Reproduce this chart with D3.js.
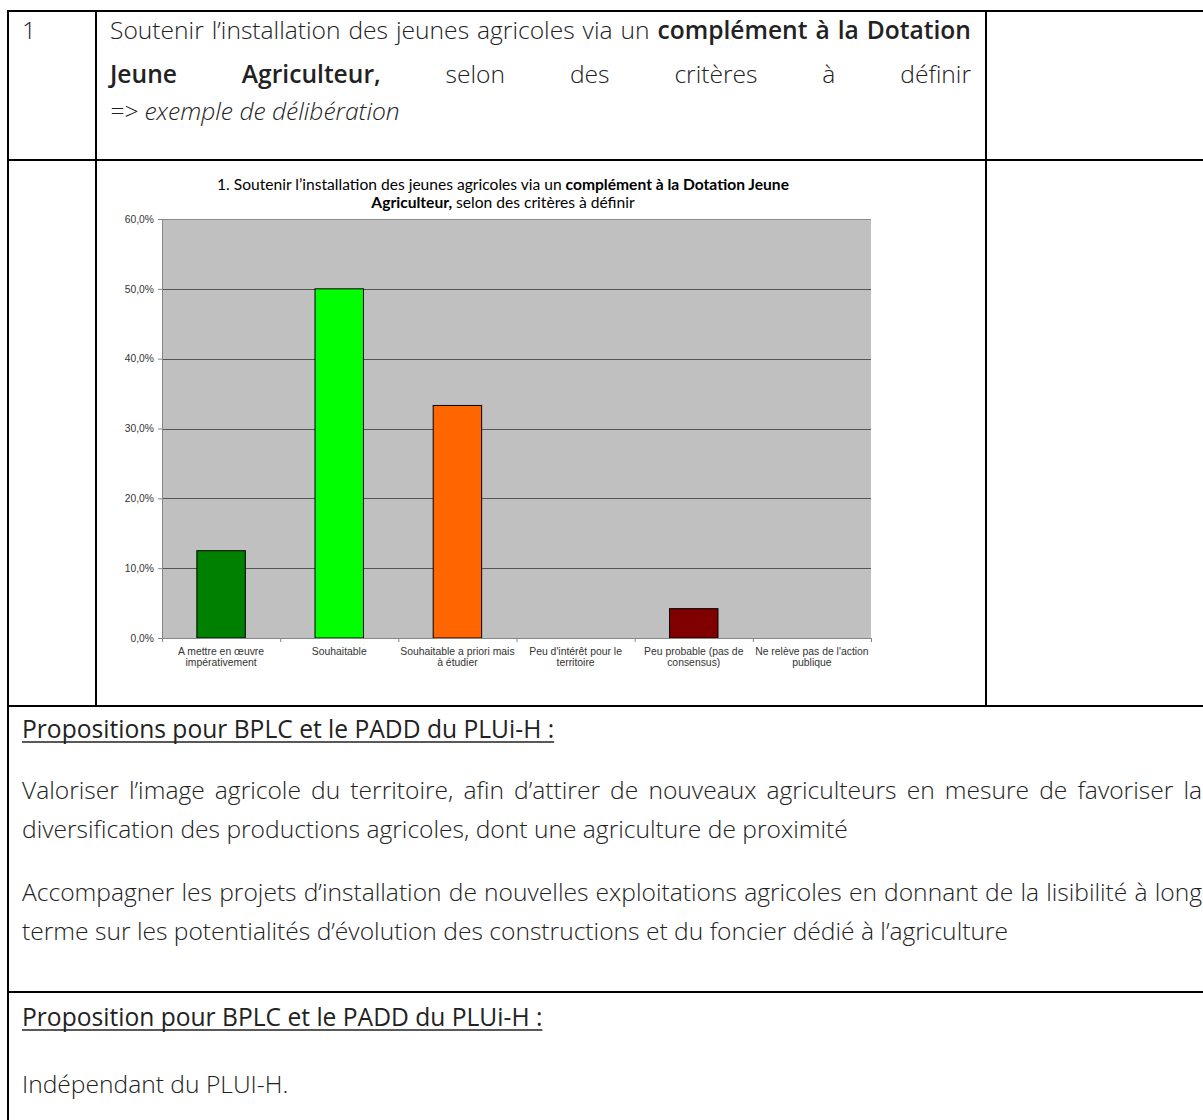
<!DOCTYPE html>
<html>
<head>
<meta charset="utf-8">
<script src="https://cdn.jsdelivr.net/npm/d3@7"></script>
<style>
  html, body { margin: 0; padding: 0; background: #fff; }
  svg { display: block; }
</style>
</head>
<body>
<script>
// Survey answers for action 1 (share of respondents, %)
const categories = [
  ["A mettre en œuvre", "impérativement"],
  ["Souhaitable"],
  ["Souhaitable a priori mais", "à étudier"],
  ["Peu d'intérêt pour le", "territoire"],
  ["Peu probable (pas de", "consensus)"],
  ["Ne relève pas de l'action", "publique"]
];
const values = [12.5, 50.0, 33.3, 0, 4.2, 0];
const barColors = ["#008000", "#00ff00", "#ff6600", "#ffcc00", "#800000", "#808080"];
const yTicks = [0, 10, 20, 30, 40, 50, 60];

const W = 1203, H = 1120;
const svg = d3.select("body").append("svg").attr("width", W).attr("height", H);

const docFont = "'Open Sans', 'Noto Sans', sans-serif";
const doc = svg.append("g").attr("font-family", docFont).attr("font-size", 24.6).attr("fill", "#222");

// ---- table frame ----
const frame = svg.append("g").attr("stroke", "#000").attr("stroke-width", 2);
const hLines = [[11, 8, W], [160, 8, W], [706, 8, W], [992, 8, W]];
hLines.forEach(([y, a, b]) => frame.append("line").attr("x1", a).attr("x2", b).attr("y1", y).attr("y2", y));
const vLines = [[8, 10, H], [96, 11, 706], [986, 11, 706]];
vLines.forEach(([x, a, b]) => frame.append("line").attr("x1", x).attr("x2", x).attr("y1", a).attr("y2", b));

// ---- paragraph helper: lays out words, justified or left-aligned ----
function drawLine(g, words, x0, x1, y, justify) {
  const nodes = words.map(wd => g.append("text")
    .attr("y", y)
    .attr("font-weight", wd.w || 300)
    .attr("font-style", wd.i ? "italic" : "normal")
    .text(wd.t));
  const widths = nodes.map(n => n.node().getComputedTextLength());
  const probe = g.append("text").attr("font-weight", 300).text("a a");
  const probe2 = g.append("text").attr("font-weight", 300).text("aa");
  const spaceW = probe.node().getComputedTextLength() - probe2.node().getComputedTextLength();
  probe.remove(); probe2.remove();
  const gap = justify && words.length > 1 ? (x1 - x0 - d3.sum(widths)) / (words.length - 1) : spaceW;
  let x = x0;
  nodes.forEach((n, i) => { n.attr("x", x); x += widths[i] + gap; });
  return x - gap;
}
function words(str, w, i) { return str.split(" ").map(t => ({ t, w, i })); }

function heading(g, str, x, y) {
  const t = g.append("text").attr("x", x).attr("y", y).attr("font-weight", 400).text(str);
  const len = t.node().getComputedTextLength();
  g.append("line").attr("x1", x).attr("x2", x + len).attr("y1", y + 4).attr("y2", y + 4)
    .attr("stroke", "#222").attr("stroke-width", 1.3);
}

// row 1
doc.append("text").attr("x", 22).attr("y", 39).attr("font-weight", 300).text("1");
drawLine(doc, [...words("Soutenir l’installation des jeunes agricoles via un", 300),
               ...words("complément à la Dotation", 600)], 110, 971, 39, true);
drawLine(doc, [...words("Jeune Agriculteur,", 600), ...words("selon des critères à définir", 300)],
         110, 971, 83, true);
drawLine(doc, words("=> exemple de délibération", 300, true), 110, 971, 120, false);

// row 3
heading(doc, "Propositions pour BPLC et le PADD du PLUi-H :", 22, 738);
drawLine(doc, words("Valoriser l’image agricole du territoire, afin d’attirer de nouveaux agriculteurs en mesure de favoriser la", 300), 22, 1202, 799, true);
drawLine(doc, words("diversification des productions agricoles, dont une agriculture de proximité", 300), 22, 1202, 838, false);
drawLine(doc, words("Accompagner les projets d’installation de nouvelles exploitations agricoles en donnant de la lisibilité à long", 300), 22, 1202, 901, true);
drawLine(doc, words("terme sur les potentialités d’évolution des constructions et du foncier dédié à l’agriculture", 300), 22, 1202, 940, false);

// row 4
heading(doc, "Proposition pour BPLC et le PADD du PLUi-H :", 22, 1026);
drawLine(doc, words("Indépendant du PLUI-H.", 300), 22, 1202, 1093, false);

// ---- bar chart ----
const chart = svg.append("g");
const plot = { left: 162, right: 871, top: 219, bottom: 638 };

const fr = d3.formatLocale({ decimal: ",", thousands: " ", grouping: [3], currency: ["", "€"] });
const pct = v => fr.format(".1f")(v) + "%";

const x = d3.scaleBand().domain(d3.range(categories.length)).range([plot.left, plot.right]).padding(0);
const y = d3.scaleLinear().domain([0, 60]).range([plot.bottom, plot.top]);

// title
const title = chart.append("text").attr("font-family", "Lato, 'Liberation Sans', sans-serif")
  .attr("font-size", 15.6).attr("fill", "#000").attr("text-anchor", "middle");
const t1 = title.append("tspan").attr("x", 503).attr("y", 190);
t1.append("tspan").text("1. Soutenir l’installation des jeunes agricoles via un ");
t1.append("tspan").attr("font-weight", 700).text("complément à la Dotation Jeune");
const t2 = title.append("tspan").attr("x", 503).attr("y", 208);
t2.append("tspan").attr("font-weight", 700).text("Agriculteur,");
t2.append("tspan").text(" selon des critères à définir");

// plot background
chart.append("rect").attr("x", plot.left).attr("y", plot.top)
  .attr("width", plot.right - plot.left).attr("height", plot.bottom - plot.top)
  .attr("fill", "#c0c0c0");

// gridlines
chart.append("g").selectAll("line").data(yTicks.filter(d => d > 0)).join("line")
  .attr("x1", plot.left).attr("x2", plot.right)
  .attr("y1", d => Math.round(y(d)) + 0.5).attr("y2", d => Math.round(y(d)) + 0.5)
  .attr("stroke", d => d === 60 ? "#8c8c8c" : "#555").attr("stroke-width", 1);

// bars
const barW = x.bandwidth() * 0.41;
chart.append("g").selectAll("rect").data(values.map((v, i) => ({ v, i })).filter(d => d.v > 0)).join("rect")
  .attr("x", d => x(d.i) + (x.bandwidth() - barW) / 2)
  .attr("y", d => y(d.v))
  .attr("width", barW)
  .attr("height", d => y(0) - y(d.v))
  .attr("fill", d => barColors[d.i])
  .attr("stroke", "#000").attr("stroke-width", 1);

// y axis
const yAxis = chart.append("g").attr("transform", `translate(${plot.left},0)`)
  .call(d3.axisLeft(y).tickValues(yTicks).tickFormat(pct).tickSize(4).tickPadding(4));
yAxis.select(".domain").attr("stroke", "#868686");
yAxis.selectAll(".tick line").attr("stroke", "#868686");
yAxis.selectAll(".tick text").attr("font-family", "'Liberation Sans', Arial, sans-serif")
  .attr("font-size", 10.3).attr("fill", "#333");

// x axis: line, boundary ticks and two-line labels
const xa = chart.append("g");
xa.append("line").attr("x1", plot.left).attr("x2", plot.right)
  .attr("y1", plot.bottom + 0.5).attr("y2", plot.bottom + 0.5).attr("stroke", "#868686");
xa.selectAll("line.tk").data(d3.range(categories.length + 1)).join("line").attr("class", "tk")
  .attr("x1", d => (d < categories.length ? x(d) : plot.right) + 0.5)
  .attr("x2", d => (d < categories.length ? x(d) : plot.right) + 0.5)
  .attr("y1", plot.bottom).attr("y2", plot.bottom + 4).attr("stroke", "#868686");
const lbl = xa.selectAll("text").data(categories).join("text")
  .attr("font-family", "'Liberation Sans', Arial, sans-serif").attr("font-size", 10.4)
  .attr("fill", "#333").attr("text-anchor", "middle");
lbl.selectAll("tspan").data((d, i) => d.map(s => ({ s, i }))).join("tspan")
  .attr("x", d => x(d.i) + x.bandwidth() / 2)
  .attr("y", (d, j) => 655 + j * 11)
  .text(d => d.s);
</script>
</body>
</html>
